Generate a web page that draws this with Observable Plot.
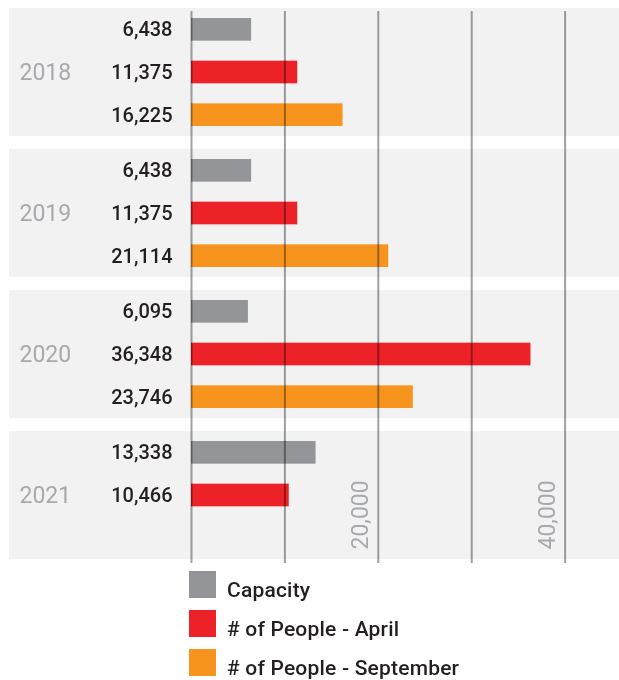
<!DOCTYPE html>
<html>
<head>
<meta charset="utf-8">
<script src="https://cdn.jsdelivr.net/npm/d3@7"></script>
<script src="https://cdn.jsdelivr.net/npm/@observablehq/plot@0.6"></script>
<style>
  body { margin: 0; background: #fff; font-family: Roboto, "Noto Sans", sans-serif; }
  #legend { margin-top: 6px; padding-left: 189px; }
  .item { display: flex; align-items: flex-start; height: 39px; }
  .sw { width: 27px; height: 27px; flex: none; }
  .lab { margin-left: 11px; font-size: 21px; font-weight: 500; letter-spacing: 0.2px; color: #231f20; line-height: 21px; padding-top: 9px; }
</style>
</head>
<body>
<div id="chart"></div>
<div id="legend"></div>
<script>
const years = ["2018", "2019", "2020", "2021"];
const series = ["Capacity", "# of People - April", "# of People - September"];
const capacity = [6438, 6438, 6095, 13338];
const april = [11375, 11375, 36348, 10466];
const september = [16225, 21114, 23746, null];
const colors = ["#939598", "#ed2128", "#f7941e"];
const gridTicks = [0, 10000, 20000, 30000, 40000];
const labelTicks = [20000, 40000];

const gap = 0.305;            // white gap between year panels, in row units
const period = 3 + gap;
const seriesValues = [capacity, april, september];

const rows = [];
years.forEach((year, g) => {
  seriesValues.forEach((vals, r) => {
    if (vals[g] != null) rows.push({year, series: series[r], value: vals[g], pos: g * period + r + 0.5});
  });
});
const panels = years.map((year, g) => ({year, top: g * period, bottom: g * period + 3, mid: g * period + 1.5}));
const fmt = d3.format(",");

const chart = Plot.plot({
  width: 619,
  height: 565,
  marginLeft: 191,
  marginRight: 0,
  marginTop: 8,
  marginBottom: 6,
  style: {fontFamily: "Roboto, 'Noto Sans', sans-serif", background: "transparent"},
  x: {domain: [0, 45824], axis: null},
  y: {domain: [0, 3 * period + 3], reverse: true, axis: null},
  color: {domain: series, range: colors},
  marks: [
    Plot.rect(panels, {y1: "top", y2: "bottom", fill: "#f2f2f2", insetLeft: -182}),
    Plot.rect(rows, {x1: d => 0, x2: "value", y1: d => d.pos - 0.5, y2: d => d.pos + 0.5, fill: "series", insetTop: 10, insetBottom: 10}),
    Plot.ruleX(gridTicks, {x: d => d, stroke: "#9fa1a4", strokeWidth: 2, insetTop: 3, insetBottom: -4, mixBlendMode: "multiply"}),
    Plot.text(rows, {y: "pos", frameAnchor: "left", dx: -19, text: d => fmt(d.value), textAnchor: "end", fill: "#231f20", fontSize: 20, fontWeight: 500}),
    Plot.text(panels, {y: "mid", frameAnchor: "left", dx: -172, text: "year", textAnchor: "start", fill: "#a7a9ac", fontSize: 23}),
    Plot.text(labelTicks, {x: d => d, frameAnchor: "bottom", text: d => fmt(d), rotate: -90, textAnchor: "start", dx: -10, dy: -10, fill: "#a7a9ac", fontSize: 23})
  ]
});
document.getElementById("chart").appendChild(chart);

const legend = document.getElementById("legend");
series.forEach((s, i) => {
  const item = document.createElement("div");
  item.className = "item";
  const sw = document.createElement("div");
  sw.className = "sw";
  sw.style.background = colors[i];
  const lab = document.createElement("div");
  lab.className = "lab";
  lab.textContent = s;
  item.appendChild(sw);
  item.appendChild(lab);
  legend.appendChild(item);
});
</script>
</body>
</html>
